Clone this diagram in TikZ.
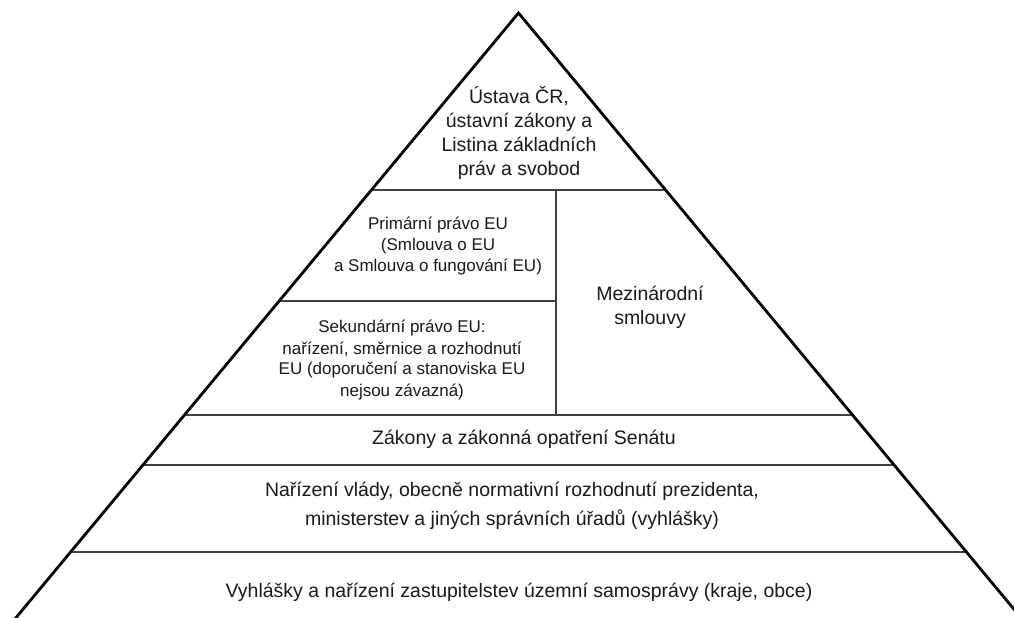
\documentclass[tikz,border=0pt]{standalone}
\usepackage{fontspec}
\setmainfont{Liberation Sans}
\usetikzlibrary{calc}
\begin{document}
\begin{tikzpicture}[x=1pt,y=-1pt,
  side/.style={line width=2.8pt,line join=miter},
  level/.style={line width=1.2pt,draw=black!75},
  lbl/.style={align=center,inner sep=0pt,text=black!90},
  big/.style={lbl,font=\fontsize{19.5}{24}\selectfont},
  wide/.style={lbl,font=\fontsize{19.5}{29}\selectfont},
  small/.style={lbl,font=\fontsize{17}{21}\selectfont}]
\useasboundingbox (0,0) rectangle (1014,618);
\begin{scope}
\clip (0,0) rectangle (1014,618);
\coordinate (apex) at (518.5,13);
\coordinate (bl) at ($(apex)+(-0.831*620,620)$);
\coordinate (br) at ($(apex)+(0.831*620,620)$);
% level end points on the sides
\coordinate (l1) at (371.4,190); \coordinate (r1) at (665.6,190);
\coordinate (l2) at (279.2,301); \coordinate (m2) at (556,301);
\coordinate (m1) at (556,190);   \coordinate (m3) at (556,415);
\coordinate (l3) at (184.4,415); \coordinate (r3) at (852.6,415);
\coordinate (l4) at (142.9,465); \coordinate (r4) at (894.1,465);
\coordinate (l5) at (70.6,552);  \coordinate (r5) at (966.4,552);
\draw[level] (l1) -- (r1);
\draw[level] (l2) -- (m2);
\draw[level] (l3) -- (r3);
\draw[level] (l4) -- (r4);
\draw[level] (l5) -- (r5);
\draw[level] (m1) -- (m3);
\draw[side] (bl) -- (apex) -- (br);
\end{scope}
\node[big] (top) at (519,133) {Ústava ČR,\\ústavní zákony a\\Listina základních\\práv a svobod};
\node[small] (prim) at (438,246) {Primární právo EU\\(Smlouva o EU\\a Smlouva o fungování EU)};
\node[small] (sek) at (402,360) {Sekundární právo EU:\\nařízení, směrnice a rozhodnutí\\EU (doporučení a stanoviska EU\\nejsou závazná)};
\node[big] (mez) at (650,307) {Mezinárodní\\smlouvy};
\node[big] (zak) at (524,439) {Zákony a zákonná opatření Senátu};
\node[wide] (nar) at (512,506) {Nařízení vlády, obecně normativní rozhodnutí prezidenta,\\ministerstev a jiných správních úřadů (vyhlášky)};
\node[big] (vyh) at (519,592) {Vyhlášky a nařízení zastupitelstev územní samosprávy (kraje, obce)};
\end{tikzpicture}
\end{document}
